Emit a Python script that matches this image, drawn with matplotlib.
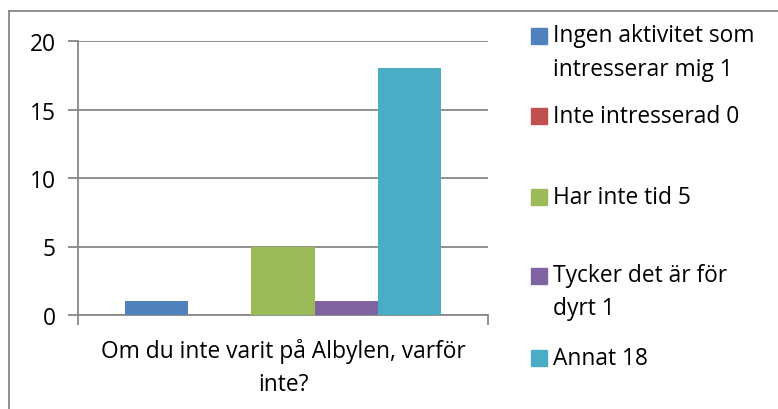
import matplotlib
matplotlib.use("Agg")
import matplotlib.pyplot as plt
from matplotlib.patches import Rectangle
from matplotlib.lines import Line2D

categories = ["Ingen aktivitet som\nintresserar mig 1", "Inte intresserad 0", "Har inte tid 5",
              "Tycker det är för\ndyrt 1", "Annat 18"]
values = [1, 0, 5, 1, 18]
colors = ["#4F81BD", "#C0504D", "#9BBB59", "#8064A2", "#4BACC6"]
group_label = "Om du inte varit på Albylen, varför\ninte?"
yticks = [0, 5, 10, 15, 20]

plt.rcParams['font.family'] = ['Open Sans', 'DejaVu Sans']
FS = 16.4
LS = 1.5
W, H = 778, 410
fig = plt.figure(figsize=(W / 100, H / 100), dpi=100)

def fx(px):
    return px / W

def fy(py):
    return 1 - py / H

ax = fig.add_axes([fx(78), fy(316), fx(488) - fx(78), fy(42) - fy(316)])
n = len(values)
bw = 0.1546
offsets = [(i - (n - 1) / 2) * bw for i in range(n)]
for i, (v, c) in enumerate(zip(values, colors)):
    ax.bar(offsets[i], v, width=bw, color=c, zorder=3, linewidth=0)

ax.set_xlim(-0.5, 0.5)
ax.set_ylim(0, 20)
ax.set_yticks(yticks)
ax.set_yticklabels([str(t) for t in yticks], fontsize=FS, color="#000000")
ax.yaxis.grid(True, color="#878787", linewidth=1.3, zorder=0)
ax.set_axisbelow(True)
for s in ["top", "right"]:
    ax.spines[s].set_visible(False)
for s in ["left", "bottom"]:
    ax.spines[s].set_color("#878787")
    ax.spines[s].set_linewidth(1.3)
ax.tick_params(axis="y", length=7, width=1.3, color="#878787", pad=9)
ax.set_xticks([-0.5, 0.5])
ax.set_xticklabels(["", ""])
ax.tick_params(axis="x", length=7, width=1.3, color="#878787")

fig.text(fx(283), fy(368), group_label, ha="center", va="center", fontsize=FS,
         linespacing=LS)

# figure border (top and left visible)
fig.add_artist(Line2D([fx(9), 1], [fy(12), fy(12)], color="#878787", linewidth=1.3))
fig.add_artist(Line2D([fx(9), fx(9)], [fy(12), 0], color="#878787", linewidth=1.3))

# legend
leg_y = [37, 117, 198, 277, 359]
for lab, c, yc in zip(categories, colors, leg_y):
    fig.add_artist(Rectangle((fx(531), fy(yc + 8)), fx(16), fy(0) - fy(16), color=c,
                             transform=fig.transFigure))
    if "\n" in lab:
        fig.text(fx(553), fy(yc + 16), lab, ha="left", va="center", fontsize=FS, linespacing=LS)
    else:
        fig.text(fx(553), fy(yc), lab, ha="left", va="center", fontsize=FS)

fig.savefig("out.png", dpi=100)
